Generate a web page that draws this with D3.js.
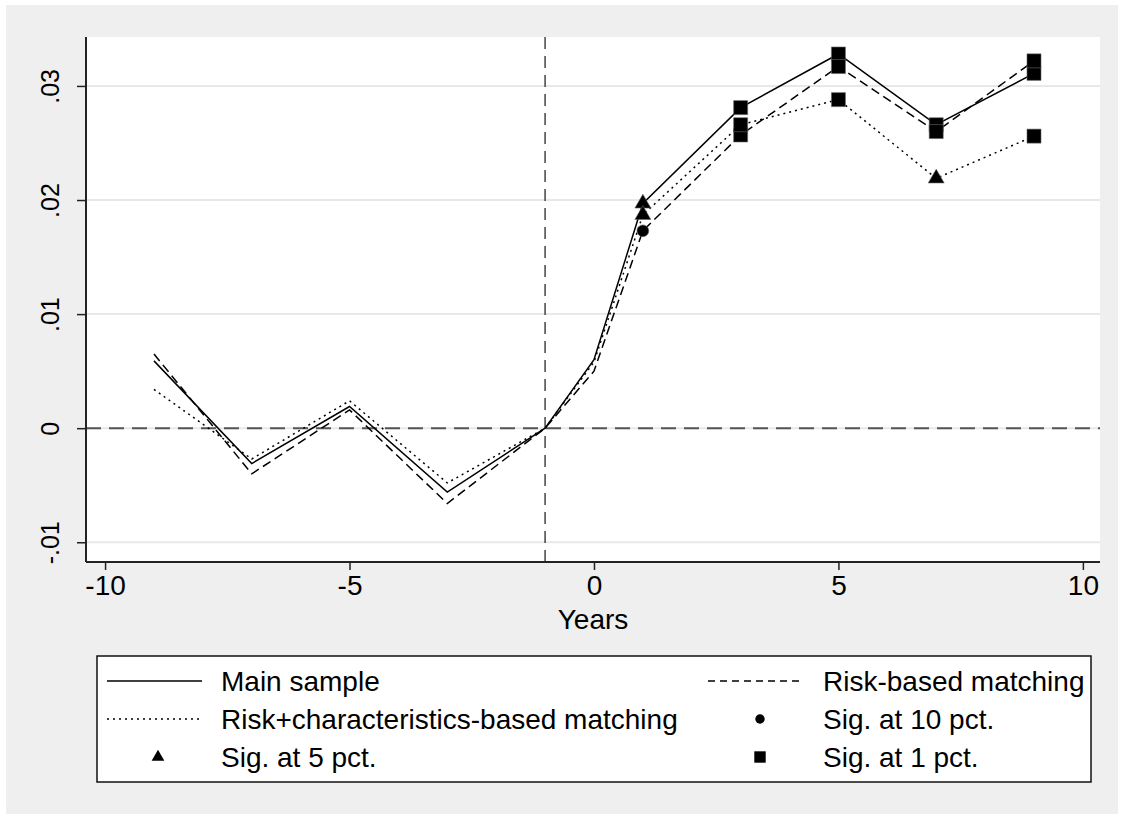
<!DOCTYPE html>
<html>
<head>
<meta charset="utf-8">
<script src="https://cdn.jsdelivr.net/npm/d3@7"></script>
<style>
  html, body { margin: 0; padding: 0; background: #ffffff; }
  text { font-family: "Liberation Sans", Arial, sans-serif; fill: #000; }
</style>
</head>
<body>
<div id="chart"></div>
<script>
// 1. Data
const years = [-9, -7, -5, -3, -1, 0, 1, 3, 5, 7, 9];
const mainSample = [0.0059, -0.0031, 0.0019, -0.0056, 0, 0.0060, 0.0197, 0.0281, 0.0328, 0.0266, 0.0311];
const riskBased  = [0.0065, -0.0040, 0.0016, -0.0066, 0, 0.0050, 0.0173, 0.0257, 0.0317, 0.0260, 0.0322];
const riskChar   = [0.0034, -0.0027, 0.0024, -0.0048, 0, 0.0058, 0.0187, 0.0266, 0.0288, 0.0219, 0.0256];
// significance level per point: "" none, "10", "5", "1"
const mainSig = ["", "", "", "", "", "", "5", "1", "1", "1", "1"];
const riskSig = ["", "", "", "", "", "", "10", "1", "1", "1", "1"];
const charSig = ["", "", "", "", "", "", "5", "1", "1", "5", "1"];

const xTicks = [-10, -5, 0, 5, 10];
const xTickLabels = ["-10", "-5", "0", "5", "10"];
const yTicks = [-0.01, 0, 0.01, 0.02, 0.03];
const yTickLabels = ["-.01", "0", ".01", ".02", ".03"];

const seriesNames = ["Main sample", "Risk-based matching", "Risk+characteristics-based matching"];
const sigNames = ["Sig. at 10 pct.", "Sig. at 5 pct.", "Sig. at 1 pct."];

// 2. Chart settings
const W = 1124, H = 819;
const plot = { left: 86, right: 1100, top: 37, bottom: 562 };
const dashes = { solid: null, dash: "9,5", dot: "2,4" };
const fontSize = 28;

const svg = d3.select("#chart")
    .append("svg")
    .attr("width", W)
    .attr("height", H);

// gray background with thin white frame
svg.append("rect")
    .attr("x", 6).attr("y", 5)
    .attr("width", W - 12).attr("height", H - 10)
    .attr("fill", "#efefef");

svg.append("rect")
    .attr("x", plot.left).attr("y", plot.top)
    .attr("width", plot.right - plot.left)
    .attr("height", plot.bottom - plot.top)
    .attr("fill", "#ffffff");

// 3. Scales
const xScale = d3.scaleLinear()
    .domain([-10.39, 10.35])
    .range([plot.left, plot.right]);

const yScale = d3.scaleLinear()
    .domain([-0.01173, 0.03429])
    .range([plot.bottom, plot.top]);

// 4. Gridlines
svg.append("g")
    .selectAll("line")
    .data(yTicks)
    .enter()
    .append("line")
    .attr("x1", plot.left).attr("x2", plot.right)
    .attr("y1", d => yScale(d)).attr("y2", d => yScale(d))
    .attr("stroke", "#e8e8e8")
    .attr("stroke-width", 2);

// reference lines
svg.append("line")
    .attr("x1", plot.left).attr("x2", plot.right)
    .attr("y1", yScale(0)).attr("y2", yScale(0))
    .attr("stroke", "#555")
    .attr("stroke-width", 2)
    .attr("stroke-dasharray", "15,8");

svg.append("line")
    .attr("x1", xScale(-1)).attr("x2", xScale(-1))
    .attr("y1", plot.top).attr("y2", plot.bottom)
    .attr("stroke", "#444")
    .attr("stroke-width", 1.5)
    .attr("stroke-dasharray", "12,7");

// 5. Axes
const xAxis = d3.axisBottom(xScale)
    .tickValues(xTicks)
    .tickSize(8)
    .tickPadding(5)
    .tickFormat((d, i) => xTickLabels[i]);

const yAxis = d3.axisLeft(yScale)
    .tickValues(yTicks)
    .tickSize(9)
    .tickFormat((d, i) => yTickLabels[i]);

const gx = svg.append("g")
    .attr("transform", `translate(0,${plot.bottom})`)
    .call(xAxis);
gx.select(".domain")
    .attr("d", `M${plot.left},0H${plot.right}`)
    .attr("stroke", "#222").attr("stroke-width", 2);
gx.selectAll(".tick line").attr("stroke", "#222").attr("stroke-width", 1.5);
gx.selectAll(".tick text")
    .attr("font-size", fontSize)
    .attr("font-family", "Liberation Sans, Arial, sans-serif")
    .attr("fill", "#000");

const gy = svg.append("g")
    .attr("transform", `translate(${plot.left},0)`)
    .call(yAxis);
gy.select(".domain")
    .attr("d", `M0,${plot.top}V${plot.bottom}`)
    .attr("stroke", "#222").attr("stroke-width", 2);
gy.selectAll(".tick line").attr("stroke", "#222").attr("stroke-width", 1.5);
gy.selectAll(".tick text")
    .attr("font-size", 25)
    .attr("font-family", "Liberation Sans, Arial, sans-serif")
    .attr("fill", "#000")
    .attr("text-anchor", "middle")
    .attr("transform", "rotate(-90)")
    .attr("x", 0)
    .attr("y", -27)
    .attr("dy", 0);

// axis title
svg.append("text")
    .attr("x", (plot.left + plot.right) / 2)
    .attr("y", 629)
    .attr("text-anchor", "middle")
    .attr("font-size", fontSize)
    .text("Years");

// 6. Lines
const series = [
    { name: seriesNames[0], values: mainSample, sig: mainSig, dash: dashes.solid },
    { name: seriesNames[1], values: riskBased, sig: riskSig, dash: dashes.dash },
    { name: seriesNames[2], values: riskChar, sig: charSig, dash: dashes.dot }
];

const lineGenerator = d3.line()
    .x((d, i) => xScale(years[i]))
    .y(d => yScale(d));

svg.append("g")
    .selectAll("path")
    .data(series)
    .enter()
    .append("path")
    .attr("fill", "none")
    .attr("stroke", "#000")
    .attr("stroke-width", 1.5)
    .attr("stroke-dasharray", d => d.dash)
    .attr("d", d => lineGenerator(d.values));

// 7. Significance markers
const symbolFor = { "10": d3.symbolCircle, "5": d3.symbolTriangle, "1": d3.symbolSquare };
const sizeFor = { "10": 110, "5": 110, "1": 196 };

const points = [];
series.forEach(s => {
    s.values.forEach((v, i) => {
        if (s.sig[i]) points.push({ x: years[i], y: v, sig: s.sig[i] });
    });
});

svg.append("g")
    .selectAll("path")
    .data(points)
    .enter()
    .append("path")
    .attr("transform", d => `translate(${xScale(d.x)},${yScale(d.y)})`)
    .attr("d", d => d3.symbol().type(symbolFor[d.sig]).size(sizeFor[d.sig])())
    .attr("fill", "#000")
    .attr("stroke", "#666")
    .attr("stroke-width", 0.6);

// 8. Legend
const legend = svg.append("g");
legend.append("rect")
    .attr("x", 97).attr("y", 656)
    .attr("width", 994).attr("height", 126)
    .attr("fill", "#fff")
    .attr("stroke", "#111")
    .attr("stroke-width", 1.5);

const rowY = [681, 719, 757];
const legendItems = [
    { kind: "line", dash: dashes.solid, kx: 107, tx: 221, y: rowY[0], label: seriesNames[0] },
    { kind: "line", dash: "7,5", kx: 708, tx: 823, y: rowY[0], label: seriesNames[1] },
    { kind: "line", dash: "2,4", kx: 107, tx: 221, y: rowY[1], label: seriesNames[2] },
    { kind: "sym", sig: "10", kx: 760, tx: 823, y: rowY[1], label: sigNames[0] },
    { kind: "sym", sig: "5", kx: 158, tx: 221, y: rowY[2], label: sigNames[1] },
    { kind: "sym", sig: "1", kx: 760, tx: 823, y: rowY[2], label: sigNames[2] }
];

legendItems.forEach(it => {
    if (it.kind === "line") {
        legend.append("line")
            .attr("x1", it.kx).attr("x2", it.kx + 95)
            .attr("y1", it.y).attr("y2", it.y)
            .attr("stroke", "#000")
            .attr("stroke-width", 1.5)
            .attr("stroke-dasharray", it.dash);
    } else {
        const sz = { "10": 70, "5": 70, "1": 130 }[it.sig];
        legend.append("path")
            .attr("transform", `translate(${it.kx},${it.y})`)
            .attr("d", d3.symbol().type(symbolFor[it.sig]).size(sz)())
            .attr("fill", "#000");
    }
    legend.append("text")
        .attr("x", it.tx)
        .attr("y", it.y)
        .attr("dy", "0.35em")
        .attr("font-size", fontSize)
        .text(it.label);
});
</script>
</body>
</html>
